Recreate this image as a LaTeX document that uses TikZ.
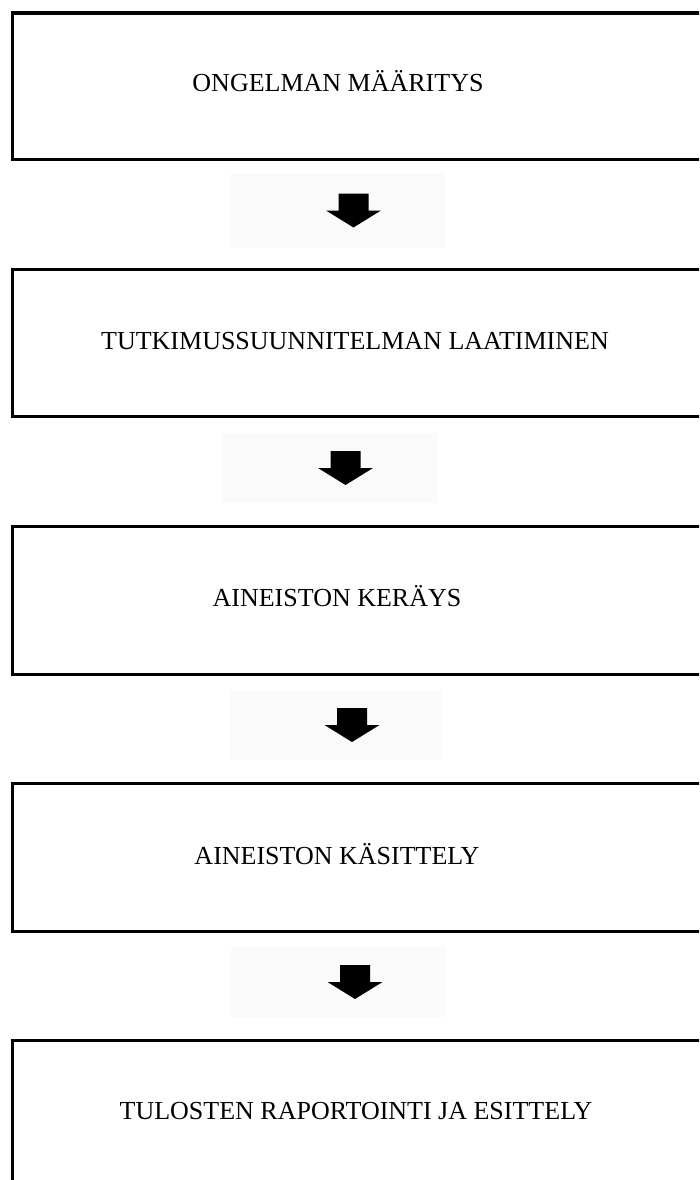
\documentclass[tikz,border=0pt]{standalone}
\usepackage{fontspec}
\setmainfont{Liberation Serif}
\begin{document}
\begin{tikzpicture}[x=1pt,y=-1pt,
  stepbox/.style={draw=black, line width=3.2pt, rectangle, inner sep=0pt,
    anchor=north west, minimum width=760pt},
  steptext/.style={anchor=base, inner sep=0pt, font=\fontsize{26}{30}\selectfont},
  arrowbg/.style={fill=black!2, draw=none, rectangle, inner sep=0pt},
  downarrow/.pic={\fill[black] (-15,-17) -- (15,-17) -- (15,0) -- (27.5,0) -- (0,17) -- (-27.5,0) -- (-15,0) -- cycle;}]
\useasboundingbox (0,0) rectangle (699,1180);
\clip (0,0) rectangle (699,1180);
\fill[white] (0,0) rectangle (699,1180);
% boxes
\node[stepbox, minimum height=146.5pt] (b1) at (11,11.5) {};
\node[stepbox, minimum height=147pt] (b2) at (11,268) {};
\node[stepbox, minimum height=148pt] (b3) at (11,525) {};
\node[stepbox, minimum height=148pt] (b4) at (11,782) {};
\node[stepbox, minimum height=200pt] (b5) at (11,1039) {};
% texts
\node[steptext] (t1) at (338,92) {ONGELMAN MÄÄRITYS};
\node[steptext] (t2) at (355,349) {TUTKIMUSSUUNNITELMAN LAATIMINEN};
\node[steptext] (t3) at (337,606) {AINEISTON KERÄYS};
\node[steptext] (t4) at (337,864) {AINEISTON KÄSITTELY};
\node[steptext] (t5) at (356,1119) {TULOSTEN RAPORTOINTI JA ESITTELY};
% arrows
\node[arrowbg, minimum width=215pt, minimum height=75pt] (a1) at (337.5,210.5) {};
\node[arrowbg, minimum width=215pt, minimum height=70pt] (a2) at (329.5,468) {};
\node[arrowbg, minimum width=212pt, minimum height=70pt] (a3) at (335,725) {};
\node[arrowbg, minimum width=215pt, minimum height=70pt] (a4) at (338,982) {};
\pic at ([xshift=16pt]a1.center) {downarrow};
\pic at ([xshift=16pt]a2.center) {downarrow};
\pic at ([xshift=17pt]a3.center) {downarrow};
\pic at ([xshift=17pt]a4.center) {downarrow};
\end{tikzpicture}
\end{document}
